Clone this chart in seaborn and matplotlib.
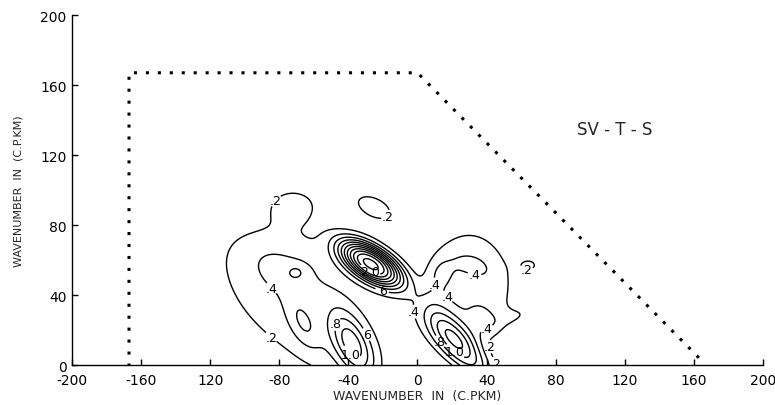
import numpy as np
import matplotlib
matplotlib.use("Agg")
import matplotlib.pyplot as plt
import seaborn as sns

# ---- data ----
# spectral peaks: centre, amplitude, widths along/across, orientation (deg), shape exponent
peak_x     = [-48, 30, -27, -38, 23, -80, -70, -72, -66, 13, 32, 39, 57, 64, -25]
peak_y     = [30, 45, 58, 12, 12, 55, 53, 91, 24, 53, 57, 26, 28, 57, 90]
peak_amp   = [0.30, 0.30, 2.10, 0.85, 1.05, 0.20, 0.18, 0.27, 0.33, 0.16, 0.16, 0.18, 0.20, 0.26, 0.26]
peak_major = [65, 23, 15, 15, 18, 20, 4.5, 13, 11, 7, 9, 8, 8, 5, 13]
peak_minor = [33, 30, 6.8, 7, 6.5, 11, 3.5, 9, 5.5, 6, 5, 5, 4, 3.3, 7]
peak_angle = [-25, 0, -32, -63, -47, -30, 0, 0, -65, 80, -20, -45, 20, 0, -25]
peak_shape = [4, 6, 2.4, 2, 2, 2, 2, 2, 2, 2, 2, 2, 2, 2, 2]

levels = [0.2, 0.4, 0.6, 0.8, 1.0, 1.2, 1.4, 1.6, 1.8, 2.0, 2.2]

# contour labels: level and position where it is written
label_level = [0.2, 0.2, 0.2, 0.2, 0.2, 0.2, 0.4, 0.4, 0.4, 0.4, 0.4, 0.4,
               0.6, 0.6, 0.8, 0.8, 1.0, 1.0, 2.0]
label_x = [-81, -18, -80, 63, -1, 50, -79, 11, 33, 14, 40, -7, -22, -25, -46, 12, -37, 23, -26]
label_y = [93, 86, 22, 56, 3, 3, 49, 46, 51, 36, 20, 30, 37, 20, 23, 13, 8, 9, 57]

boundary_x = [-167, -167, 0, 167]
boundary_y = [0, 167, 167, 0]

xticks = [-200, -160, -120, -80, -40, 0, 40, 80, 120, 160, 200]
xtick_labels = ["-200", "-160", "120", "-80", "-40", "0", "40", "80", "120", "160", "200"]
yticks = [0, 40, 80, 120, 160, 200]
ytick_labels = ["0", "40", "80", "120", "160", "200"]

# ---- build field ----
gx = np.arange(-200, 200.5, 0.5)
gy = np.arange(0, 200.5, 0.5)
X, Y = np.meshgrid(gx, gy)
Z = np.zeros_like(X)
for px, py, a, sM, sm, ang, p in zip(peak_x, peak_y, peak_amp, peak_major,
                                      peak_minor, peak_angle, peak_shape):
    t = np.deg2rad(ang)
    u = (X - px) * np.cos(t) + (Y - py) * np.sin(t)
    v = -(X - px) * np.sin(t) + (Y - py) * np.cos(t)
    q = (u / sM) ** 2 + (v / sm) ** 2
    Z += a * np.exp(-0.5 * q ** (p / 2.0))

sns.set_style("ticks")
plt.rcParams['font.family'] = ['DejaVu Sans']

fig = plt.figure(figsize=(7.75, 4.06), dpi=100)
ax = fig.add_axes([0.0929, 0.0985, 0.8916, 0.862])

ax.set_xlim(-200, 200)
ax.set_ylim(0, 200)
cs = ax.contour(X, Y, Z, levels=levels, colors='black', linewidths=1.0)

# snap every label point onto the contour of its own level
snapped = []
for lev, lx, ly in zip(label_level, label_x, label_y):
    i = int(np.argmin([abs(l - lev) for l in cs.levels]))
    segs = [s for s in cs.allsegs[i] if len(s)]
    if not segs:
        continue
    pts = np.vstack(segs)
    d = (pts[:, 0] - lx) ** 2 + (pts[:, 1] - ly) ** 2
    snapped.append(tuple(pts[np.argmin(d)]))

fmt = lambda v: f"{v:.1f}".lstrip("0")
ax.clabel(cs, fmt=fmt, fontsize=9, manual=snapped, inline=True, inline_spacing=1)
for t in cs.labelTexts:
    t.set_rotation(0)

sns.lineplot(x=boundary_x, y=boundary_y, sort=False, estimator=None, ax=ax,
             color='black', linewidth=2.2, linestyle=(0, (0.01, 3.9)),
             dash_capstyle='projecting')

ax.text(114, 135, "SV - T - S", fontsize=12, ha='center', va='center')

ax.set_xlim(-200, 200)
ax.set_ylim(0, 200)
ax.set_xticks(xticks)
ax.set_xticklabels(xtick_labels)
ax.set_yticks(yticks)
ax.set_yticklabels(ytick_labels)
ax.tick_params(direction='in', length=4, width=1, labelsize=10, colors='black')
ax.tick_params(axis='x', pad=6)
ax.tick_params(axis='y', pad=4)
ax.set_xlabel("WAVENUMBER  IN  (C.PKM)", fontsize=9, labelpad=1)
ax.set_ylabel("WAVENUMBER  IN  (C.P.KM)", fontsize=8, labelpad=12)
for s in ['top', 'right']:
    ax.spines[s].set_visible(False)
for s in ['left', 'bottom']:
    ax.spines[s].set_color('black')
    ax.spines[s].set_linewidth(1.0)

fig.savefig("out.png", dpi=100, facecolor='white')
